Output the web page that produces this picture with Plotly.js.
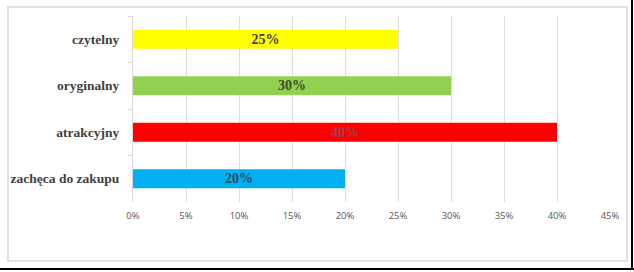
<!DOCTYPE html>
<html>
<head>
<meta charset="utf-8">
<script src="https://cdn.plot.ly/plotly-3.0.1.min.js"></script>
<style>
  html, body { margin: 0; padding: 0; background: #ffffff; }
  #wrap { position: relative; width: 634px; height: 272px; overflow: hidden; }
  #chart { position: absolute; left: 0; top: 0; width: 634px; height: 272px; }
  #frame { position: absolute; left: 7px; top: 6px; width: 617px; height: 252px;
           border: 2px solid #e3e3e3; pointer-events: none; }
  #blackB { position: absolute; left: 0; top: 268px; width: 634px; height: 2px; background: #000; }
  #blackR { position: absolute; left: 631px; top: 0; width: 2px; height: 270px; background: #000; }
</style>
</head>
<body>
<div id="wrap">
  <div id="chart"></div>
  <div id="frame"></div>
  <div id="blackB"></div>
  <div id="blackR"></div>
</div>
<script>
const categories = ["czytelny", "oryginalny", "atrakcyjny", "zachęca do zakupu"];
const values = [25, 30, 40, 20];
const valueLabels = ["25%", "30%", "40%", "20%"];
const barColors = ["#FFFF00", "#92D050", "#FF0000", "#00B0F0"];
const labelColors = ["#3f3f3f", "#3f4a2f", "#a04050", "#2c4a66"];
const xTickVals = [0, 5, 10, 15, 20, 25, 30, 35, 40, 45];
const xTickText = ["0%", "5%", "10%", "15%", "20%", "25%", "30%", "35%", "40%", "45%"];

const trace = {
  type: "bar",
  orientation: "h",
  y: categories,
  x: values,
  text: valueLabels,
  marker: { color: barColors, line: { width: 0 } },
  textposition: "inside",
  insidetextanchor: "middle",
  constraintext: "none",
  textangle: 0,
  textfont: { family: "Liberation Serif", size: 14, color: labelColors, weight: "bold" },
  hoverinfo: "none"
};

const layout = {
  width: 634,
  height: 272,
  margin: { l: 133, r: 24, t: 16, b: 70 },
  paper_bgcolor: "#ffffff",
  plot_bgcolor: "#ffffff",
  showlegend: false,
  bargap: 0.59,
  xaxis: {
    range: [0, 45],
    tickmode: "array",
    tickvals: xTickVals,
    ticktext: xTickText,
    showgrid: true,
    gridcolor: "#dedede",
    gridwidth: 1,
    zeroline: false,
    showline: false,
    ticks: "",
    ticklabelstandoff: 6,
    tickfont: { family: "Open Sans", size: 9.5, color: "#595959" }
  },
  yaxis: {
    autorange: "reversed",
    showgrid: false,
    zeroline: false,
    showline: true,
    linecolor: "#d9d9d9",
    linewidth: 1,
    ticks: "outside",
    tickson: "boundaries",
    ticklen: 4,
    tickcolor: "#d9d9d9",
    ticklabelstandoff: 10,
    tickfont: { family: "Liberation Serif", size: 13.5, color: "#404040", weight: "bold" }
  }
};

Plotly.newPlot("chart", [trace], layout, { displayModeBar: false, staticPlot: true });
</script>
</body>
</html>
